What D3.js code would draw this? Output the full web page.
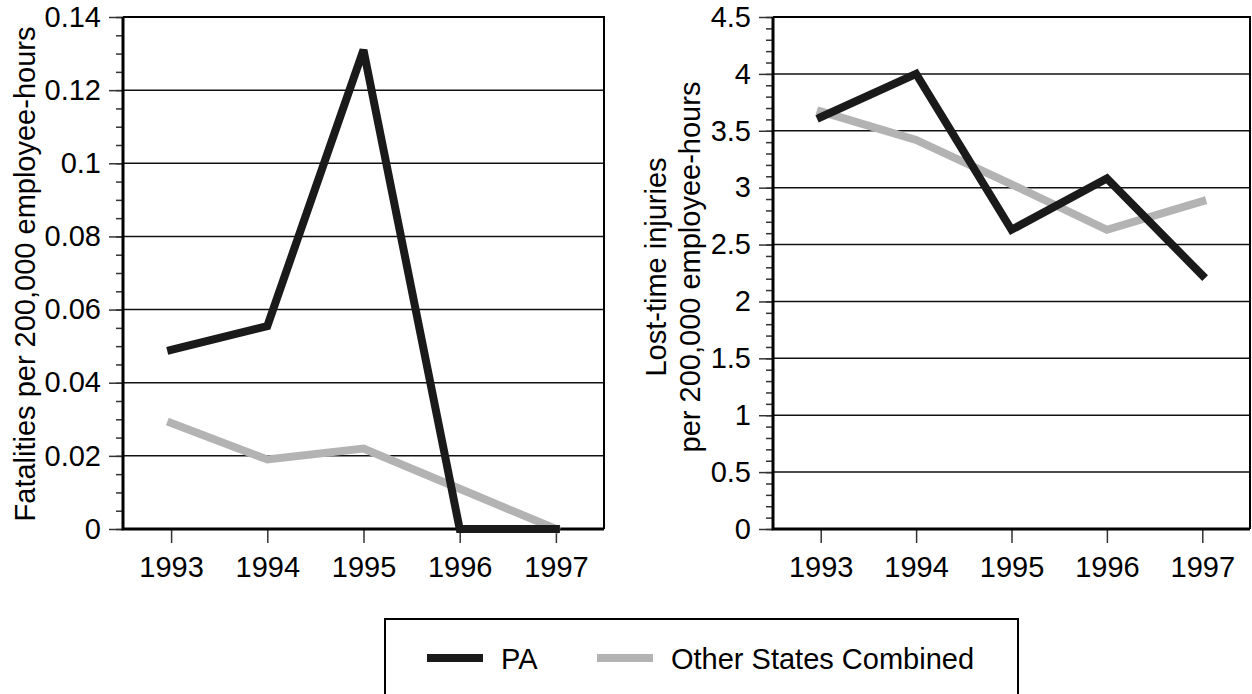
<!DOCTYPE html>
<html>
<head>
<meta charset="utf-8">
<script src="https://cdn.jsdelivr.net/npm/d3@7"></script>
<style>
  body { margin: 0; background: #fff; }
  text { font-family: "Liberation Sans", Arial, sans-serif; fill: #000; }
</style>
</head>
<body>
<div id="viz"></div>
<script>
// data
var years = ['1993', '1994', '1995', '1996', '1997'];
var fatalPA = [0.049, 0.0555, 0.131, 0, 0];
var fatalOther = [0.029, 0.019, 0.022, 0.011, 0];
var injuryPA = [3.62, 4.0, 2.63, 3.08, 2.23];
var injuryOther = [3.67, 3.42, 3.03, 2.63, 2.88];
var fatalTicks = [0, 0.02, 0.04, 0.06, 0.08, 0.1, 0.12, 0.14];
var injuryTicks = [0, 0.5, 1, 1.5, 2, 2.5, 3, 3.5, 4, 4.5];
var seriesNames = ['PA', 'Other States Combined'];
var seriesColors = ['#1a1a1a', '#b3b3b3'];

var fontSize = 29;

var svg = d3.select('#viz').append('svg')
  .attr('width', 1252)
  .attr('height', 694);

// draws one panel: y axis with minor ticks, grid, x axis, two lines
function panel(opts) {
  var x = d3.scalePoint().domain(years).range([opts.left, opts.right]).padding(0.5);
  var y = d3.scaleLinear().domain([0, opts.max]).range([opts.bottom, opts.top]);
  var g = svg.append('g');

  // minor ticks
  g.append('g')
    .attr('transform', 'translate(' + opts.left + ',0)')
    .call(d3.axisLeft(y).tickValues(d3.range(0, opts.max + opts.minor / 2, opts.minor)).tickSize(7).tickFormat(''))
    .call(function(a) {
      a.select('.domain').remove();
      a.selectAll('line').attr('stroke', '#333').attr('stroke-width', 1.5);
    });

  // major ticks + labels
  g.append('g')
    .attr('transform', 'translate(' + opts.left + ',0)')
    .call(d3.axisLeft(y).tickValues(opts.ticks).tickSize(14).tickPadding(8).tickFormat(d3.format('')))
    .call(function(a) {
      a.select('.domain').remove();
      a.selectAll('line').attr('stroke', '#333').attr('stroke-width', 1.5);
      a.selectAll('text').attr('font-size', fontSize).attr('font-family', null);
    });

  // gridlines
  g.selectAll('.grid')
    .data(opts.ticks.slice(1, -1))
    .enter().append('line')
    .attr('x1', opts.left).attr('x2', opts.right)
    .attr('y1', function(d) { return y(d); })
    .attr('y2', function(d) { return y(d); })
    .attr('stroke', '#111')
    .attr('stroke-width', 1.5);

  // x axis ticks + labels
  g.append('g')
    .attr('transform', 'translate(0,' + opts.bottom + ')')
    .call(d3.axisBottom(x).tickSize(14).tickPadding(13))
    .call(function(a) {
      a.select('.domain').remove();
      a.selectAll('line').attr('stroke', '#333').attr('stroke-width', 1.5);
      a.selectAll('text').attr('font-size', fontSize).attr('font-family', null);
    });

  // frame: thin top/right, heavy left/bottom
  g.append('path')
    .attr('d', 'M' + opts.left + ',' + opts.top + 'H' + opts.right + 'V' + opts.bottom)
    .attr('fill', 'none').attr('stroke', '#000').attr('stroke-width', 2);
  g.append('path')
    .attr('d', 'M' + opts.left + ',' + opts.top + 'V' + opts.bottom + 'H' + opts.right)
    .attr('fill', 'none').attr('stroke', '#000').attr('stroke-width', 3);

  var line = d3.line()
    .x(function(d, i) { return x(years[i]); })
    .y(function(d) { return y(d); });

  [opts.other, opts.pa].forEach(function(vals, k) {
    g.append('path')
      .datum(vals)
      .attr('d', line)
      .attr('fill', 'none')
      .attr('stroke', k === 0 ? seriesColors[1] : seriesColors[0])
      .attr('stroke-width', 8)
      .attr('stroke-linecap', 'square')
      .attr('stroke-linejoin', 'miter')
      .attr('stroke-miterlimit', 2);
  });

  // y axis title
  var t = g.append('text')
    .attr('transform', 'translate(' + opts.titleX + ',' + opts.titleY + ') rotate(-90)')
    .attr('text-anchor', 'middle')
    .attr('font-size', fontSize);
  opts.title.forEach(function(s, i) {
    t.append('tspan').attr('x', 0).attr('dy', i === 0 ? 0 : '1.18em').text(s);
  });
}

panel({
  left: 123, right: 604, top: 17, bottom: 529,
  max: 0.14, minor: 0.005, ticks: fatalTicks,
  pa: fatalPA, other: fatalOther,
  title: ['Fatalities per 200,000 employee-hours'],
  titleX: 35, titleY: 274
});

panel({
  left: 773, right: 1250, top: 17, bottom: 529,
  max: 4.5, minor: 0.1, ticks: injuryTicks,
  pa: injuryPA, other: injuryOther,
  title: ['Lost-time injuries', 'per 200,000 employee-hours'],
  titleX: 666, titleY: 267
});

// legend
var legend = svg.append('g');
legend.append('rect')
  .attr('x', 385).attr('y', 619)
  .attr('width', 633).attr('height', 100)
  .attr('fill', 'none').attr('stroke', '#000').attr('stroke-width', 2);

var legendX = [427, 597];
seriesNames.forEach(function(name, i) {
  legend.append('line')
    .attr('x1', legendX[i]).attr('x2', legendX[i] + 56)
    .attr('y1', 658).attr('y2', 658)
    .attr('stroke', seriesColors[i])
    .attr('stroke-width', 8);
  legend.append('text')
    .attr('x', legendX[i] + 74)
    .attr('y', 669)
    .attr('font-size', fontSize)
    .text(name);
});
</script>
</body>
</html>
